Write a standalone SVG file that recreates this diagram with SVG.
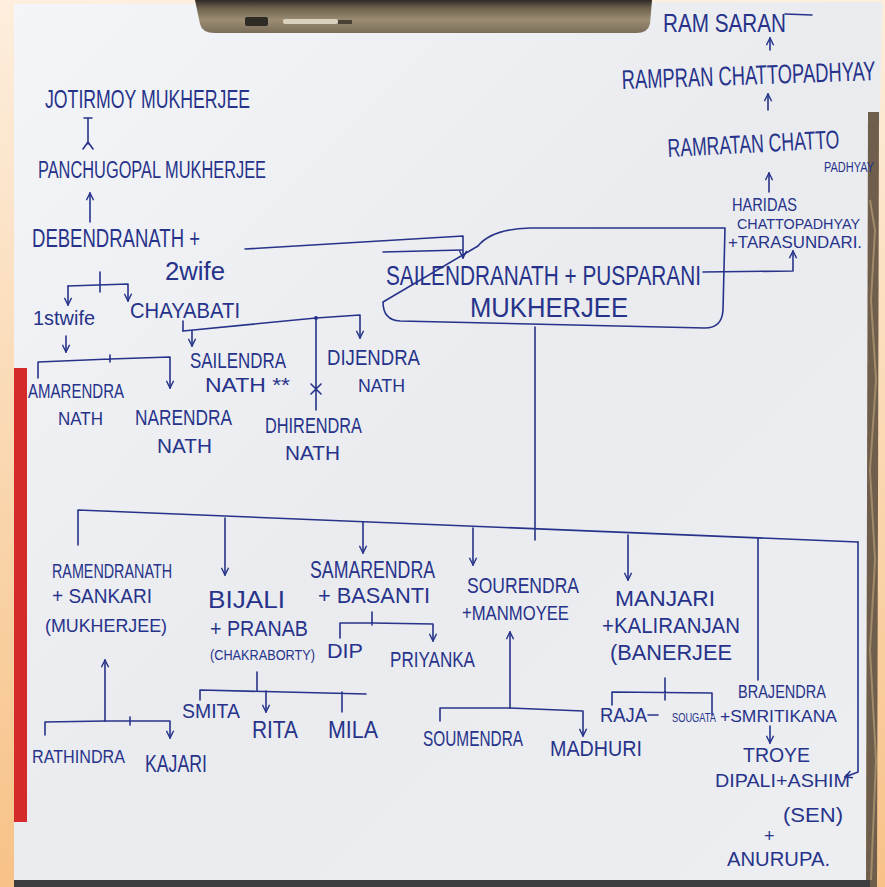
<svg xmlns="http://www.w3.org/2000/svg" width="885" height="887" viewBox="0 0 885 887">
<defs>
<linearGradient id="bg" x1="0" y1="0" x2="0" y2="1">
<stop offset="0" stop-color="#fdeedd"/><stop offset="1" stop-color="#f7c287"/>
</linearGradient>
<linearGradient id="paper" x1="0" y1="0" x2="1" y2="1">
<stop offset="0" stop-color="#f4f5f8"/><stop offset="0.5" stop-color="#e9ebef"/><stop offset="1" stop-color="#eceef2"/>
</linearGradient>
<linearGradient id="phone" x1="0" y1="0" x2="0" y2="1">
<stop offset="0" stop-color="#2f2a25"/><stop offset="0.25" stop-color="#6f634f"/><stop offset="0.6" stop-color="#9b8c73"/><stop offset="1" stop-color="#7a6d59"/>
</linearGradient>
<marker id="arr" viewBox="0 0 10 10" refX="9" refY="5" markerWidth="9" markerHeight="9" markerUnits="userSpaceOnUse" orient="auto">
<path d="M1,1 L9,5 L1,9" fill="none" stroke="#27338a" stroke-width="1.6"/>
</marker>
<style>
text{font-family:"Liberation Sans","DejaVu Sans",sans-serif;fill:#27338a}
.c{fill:none;stroke:#27338a;stroke-width:1.6;stroke-linecap:round;stroke-linejoin:round}
.a{marker-end:url(#arr)}
</style>
</defs>
<!-- background -->
<rect width="885" height="887" fill="url(#bg)"/>
<path d="M14,4 L882,2 L880,118 L868,132 L866,887 L14,887 Z" fill="url(#paper)"/>
<path d="M868,112 L879,112 L877,887 L866,887 Z" fill="#6e5e4b"/>
<path d="M870,200 L875,230 L871,300 L876,380 L870,470 L875,560 L870,650 L876,760 L871,880" fill="none" stroke="#a08a6a" stroke-width="2"/>
<rect x="14" y="368" width="13" height="454" fill="#d42a2a"/>
<rect x="14" y="880" width="856" height="7" fill="#3e3e40"/>
<path d="M195,0 L652,0 L650,24 Q648,33 636,33 L215,33 Q202,33 200,24 Z" fill="url(#phone)"/>
<rect x="245" y="17" width="23" height="9" rx="2" fill="#2e2a24"/>
<rect x="283" y="19" width="55" height="5" rx="2" fill="#d8d0bc"/>
<rect x="338" y="20" width="14" height="4" fill="#4a4236"/>

<!-- connectors -->
<g id="connectors">
<path class="c" d="M785,14 L812,15"/>
<path class="c a" d="M770,50 L770,38"/>
<path class="c a" d="M768,110 L768,94"/>
<path class="c a" d="M769,192 L769,173"/>
<path class="c a" d="M703,272 L793,271 L793,251"/>
<path class="c a" d="M245,249 L463,236 L463,258"/>
<path class="c" d="M88,118 L88,144 M84,118 L92,118 M83,149 L88,142 L93,149"/>
<path class="c a" d="M90,222 L90,193"/>
<path class="c a" d="M68,286 L68,305"/>
<path class="c a" d="M68,286 L128,284 L128,301"/>
<path class="c" d="M100,272 L100,292"/>
<path class="c a" d="M66,336 L66,352"/>
<path class="c" d="M38,378 L38,362 L110,359 M110,355 L110,362"/>
<path class="c a" d="M110,359 L170,357 L170,388"/>
<path class="c" d="M183,321 L183,331"/>
<path class="c a" d="M183,331 L316,318 L360,315 L360,338"/>
<path class="c a" d="M192,331 L192,346"/>
<path class="c" d="M316,318 L316,410 M311,384 L321,394 M321,384 L311,394"/>
<circle cx="316" cy="318" r="2" fill="#27338a"/>
<path class="c" d="M383,252 L462,250 M478,246 Q492,229 530,228 L725,228 L723,310 Q722,328 705,328 L400,321 Q383,320 383,302 Z"/>
<path class="c" d="M535,327 L535,540"/>
<path class="c" d="M78,545 L78,510 L858,542"/>
<path class="c a" d="M858,542 L858,772 L845,777"/>
<path class="c a" d="M225,518 L225,575"/>
<path class="c a" d="M363,522 L363,553"/>
<path class="c a" d="M473,528 L473,565"/>
<path class="c a" d="M628,535 L628,580"/>
<path class="c" d="M758,538 L758,680"/>
<path class="c a" d="M105,721 L105,660"/>
<path class="c" d="M45,735 L45,722 L105,721"/>
<path class="c a" d="M105,721 L170,721 L170,738"/>
<path class="c" d="M130,717 L130,725"/>
<path class="c" d="M257,672 L257,690 M200,700 L200,690 L366,694 M342,692 L342,712"/>
<path class="c a" d="M266,691 L266,712"/>
<path class="c" d="M372,612 L372,625 M340,638 L340,623 L372,623"/>
<path class="c a" d="M372,623 L433,624 L433,641"/>
<path class="c a" d="M510,708 L510,632"/>
<path class="c" d="M440,721 L440,708 L510,708"/>
<path class="c a" d="M510,708 L583,711 L583,736"/>
<path class="c" d="M665,678 L665,700 M612,705 L612,692 L712,693 L712,715"/>
<path class="c" d="M648,715 L658,715"/>
<path class="c a" d="M770,726 L770,743"/>
</g>

<!-- nodes -->
<g id="ram-saran"><text transform="translate(663 32) scale(1 1.2)" font-size="20.7" textLength="123" lengthAdjust="spacingAndGlyphs">RAM SARAN</text></g>
<g id="rampran"><text transform="translate(622 89) rotate(-2) scale(1 1.5)" font-size="18" textLength="254" lengthAdjust="spacingAndGlyphs">RAMPRAN CHATTOPADHYAY</text></g>
<g id="ramratan"><text transform="translate(668 157) rotate(-3) scale(1 1.5)" font-size="17.2" textLength="172" lengthAdjust="spacingAndGlyphs">RAMRATAN CHATTO</text><text transform="translate(824 172) scale(1 1.35)" font-size="10.4" textLength="50" lengthAdjust="spacingAndGlyphs">PADHYAY</text></g>
<g id="haridas"><text transform="translate(732 211) scale(1 1.2)" font-size="14.6" textLength="65" lengthAdjust="spacingAndGlyphs">HARIDAS</text><text transform="translate(737 229) scale(1 1.1)" font-size="13.8" textLength="123" lengthAdjust="spacingAndGlyphs">CHATTOPADHYAY</text><text x="728" y="248" font-size="16.5" textLength="134" lengthAdjust="spacingAndGlyphs">+TARASUNDARI.</text></g>
<g id="jotirmoy"><text transform="translate(45 108) scale(1 1.45)" font-size="17.6" textLength="205" lengthAdjust="spacingAndGlyphs">JOTIRMOY MUKHERJEE</text></g>
<g id="panchugopal"><text transform="translate(38 178) scale(1 1.5)" font-size="16.1" textLength="228" lengthAdjust="spacingAndGlyphs">PANCHUGOPAL MUKHERJEE</text></g>
<g id="debendranath"><text transform="translate(32 247) scale(1 1.4)" font-size="18.3" textLength="168" lengthAdjust="spacingAndGlyphs">DEBENDRANATH +</text><text x="165" y="280" font-size="25" textLength="60" lengthAdjust="spacingAndGlyphs">2wife</text></g>
<g id="first-wife"><text x="33" y="325" font-size="19.8" textLength="62" lengthAdjust="spacingAndGlyphs">1stwife</text></g>
<g id="chayabati"><text transform="translate(130 318) scale(1 1.15)" font-size="19.4" textLength="110" lengthAdjust="spacingAndGlyphs">CHAYABATI</text></g>
<g id="amarendra"><text transform="translate(28 398) scale(1 1.4)" font-size="15" textLength="96" lengthAdjust="spacingAndGlyphs">AMARENDRA</text><text transform="translate(58 425) scale(1 1.15)" font-size="16.5" textLength="45" lengthAdjust="spacingAndGlyphs">NATH</text></g>
<g id="narendra"><text transform="translate(135 425) scale(1 1.3)" font-size="17.2" textLength="97" lengthAdjust="spacingAndGlyphs">NARENDRA</text><text transform="translate(157 453) scale(1 1.05)" font-size="20" textLength="55" lengthAdjust="spacingAndGlyphs">NATH</text></g>
<g id="sailendra"><text transform="translate(190 368) scale(1 1.3)" font-size="16.9" textLength="96" lengthAdjust="spacingAndGlyphs">SAILENDRA</text><text x="205" y="392" font-size="21" textLength="85" lengthAdjust="spacingAndGlyphs">NATH **</text></g>
<g id="dijendra"><text transform="translate(327 365) scale(1 1.2)" font-size="18.5" textLength="93" lengthAdjust="spacingAndGlyphs">DIJENDRA</text><text transform="translate(358 392) scale(1 1.1)" font-size="17.2" textLength="47" lengthAdjust="spacingAndGlyphs">NATH</text></g>
<g id="dhirendra"><text transform="translate(265 433) scale(1 1.3)" font-size="16.3" textLength="97" lengthAdjust="spacingAndGlyphs">DHIRENDRA</text><text transform="translate(285 460) scale(1 1.05)" font-size="20" textLength="55" lengthAdjust="spacingAndGlyphs">NATH</text></g>
<g id="sailendranath-pusparani"><text transform="translate(386 285) scale(1 1.35)" font-size="20.5" textLength="315" lengthAdjust="spacingAndGlyphs">SAILENDRANATH + PUSPARANI</text><text transform="translate(470 317) scale(1 1.1)" font-size="25.5" textLength="158" lengthAdjust="spacingAndGlyphs">MUKHERJEE</text></g>
<g id="ramendranath"><text transform="translate(52 578) scale(1 1.4)" font-size="14.1" textLength="120" lengthAdjust="spacingAndGlyphs">RAMENDRANATH</text><text transform="translate(52 603) scale(1 1.05)" font-size="19" textLength="100" lengthAdjust="spacingAndGlyphs">+ SANKARI</text><text x="45" y="632" font-size="17.8" textLength="122" lengthAdjust="spacingAndGlyphs">(MUKHERJEE)</text></g>
<g id="bijali"><text x="208" y="608" font-size="24" textLength="77" lengthAdjust="spacingAndGlyphs">BIJALI</text><text transform="translate(210 636) scale(1 1.15)" font-size="19.7" textLength="98" lengthAdjust="spacingAndGlyphs">+ PRANAB</text><text transform="translate(210 660) scale(1 1.1)" font-size="12.7" textLength="105" lengthAdjust="spacingAndGlyphs">(CHAKRABORTY)</text></g>
<g id="samarendra"><text transform="translate(310 578) scale(1 1.3)" font-size="17.7" textLength="125" lengthAdjust="spacingAndGlyphs">SAMARENDRA</text><text x="318" y="603" font-size="21.7" textLength="112" lengthAdjust="spacingAndGlyphs">+ BASANTI</text></g>
<g id="dip"><text x="327" y="658" font-size="21" textLength="36" lengthAdjust="spacingAndGlyphs">DIP</text></g>
<g id="priyanka"><text transform="translate(390 667) scale(1 1.3)" font-size="16.8" textLength="85" lengthAdjust="spacingAndGlyphs">PRIYANKA</text></g>
<g id="smita"><text transform="translate(182 718) scale(1 1.1)" font-size="19" textLength="58" lengthAdjust="spacingAndGlyphs">SMITA</text></g>
<g id="rita"><text transform="translate(252 738) scale(1 1.15)" font-size="20.2" textLength="46" lengthAdjust="spacingAndGlyphs">RITA</text></g>
<g id="mila"><text transform="translate(328 738) scale(1 1.1)" font-size="21.4" textLength="50" lengthAdjust="spacingAndGlyphs">MILA</text></g>
<g id="rathindra"><text transform="translate(32 763) scale(1 1.2)" font-size="15.9" textLength="93" lengthAdjust="spacingAndGlyphs">RATHINDRA</text></g>
<g id="kajari"><text transform="translate(145 772) scale(1 1.35)" font-size="17.7" textLength="62" lengthAdjust="spacingAndGlyphs">KAJARI</text></g>
<g id="sourendra"><text transform="translate(467 593) scale(1 1.3)" font-size="17.5" textLength="112" lengthAdjust="spacingAndGlyphs">SOURENDRA</text><text transform="translate(462 620) scale(1 1.2)" font-size="16.7" textLength="107" lengthAdjust="spacingAndGlyphs">+MANMOYEE</text></g>
<g id="soumendra"><text transform="translate(423 746) scale(1 1.4)" font-size="15.4" textLength="100" lengthAdjust="spacingAndGlyphs">SOUMENDRA</text></g>
<g id="madhuri"><text transform="translate(550 756) scale(1 1.1)" font-size="19.7" textLength="92" lengthAdjust="spacingAndGlyphs">MADHURI</text></g>
<g id="manjari"><text x="615" y="606" font-size="22.8" textLength="100" lengthAdjust="spacingAndGlyphs">MANJARI</text><text transform="translate(602 633) scale(1 1.1)" font-size="20.4" textLength="138" lengthAdjust="spacingAndGlyphs">+KALIRANJAN</text><text transform="translate(610 660) scale(1 1.05)" font-size="20.6" textLength="122" lengthAdjust="spacingAndGlyphs">(BANERJEE</text></g>
<g id="raja"><text transform="translate(600 722) scale(1 1.1)" font-size="18.4" textLength="47" lengthAdjust="spacingAndGlyphs">RAJA</text></g>
<g id="sougata"><text transform="translate(672 722) scale(1 1.4)" font-size="9" textLength="44" lengthAdjust="spacingAndGlyphs">SOUGATA</text></g>
<g id="brajendra"><text transform="translate(738 698) scale(1 1.25)" font-size="14.5" textLength="88" lengthAdjust="spacingAndGlyphs">BRAJENDRA</text><text x="720" y="722" font-size="17.4" textLength="117" lengthAdjust="spacingAndGlyphs">+SMRITIKANA</text></g>
<g id="troye"><text transform="translate(743 762) scale(1 1.05)" font-size="19.4" textLength="67" lengthAdjust="spacingAndGlyphs">TROYE</text></g>
<g id="dipali"><text transform="translate(715 787) scale(1 1.05)" font-size="17.8" textLength="135" lengthAdjust="spacingAndGlyphs">DIPALI+ASHIM</text><text x="783" y="822" font-size="20" textLength="60" lengthAdjust="spacingAndGlyphs">(SEN)</text><text x="764" y="842" font-size="18">+</text><text x="727" y="866" font-size="19.9" textLength="103" lengthAdjust="spacingAndGlyphs">ANURUPA.</text></g>
</svg>
